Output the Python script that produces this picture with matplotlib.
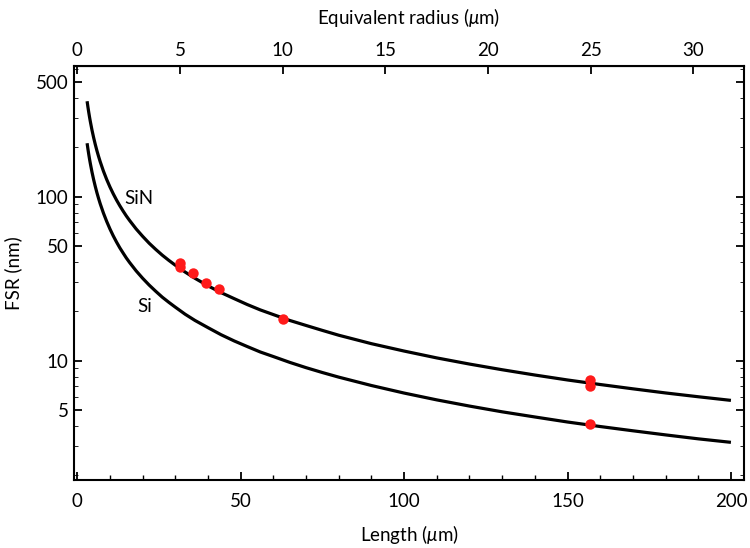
import numpy as np
import matplotlib
matplotlib.use("Agg")
import matplotlib.pyplot as plt
from matplotlib.ticker import FixedLocator, NullFormatter, MultipleLocator

plt.rcParams['font.family'] = ['Lato', 'DejaVu Sans']
plt.rcParams['mathtext.fontset'] = 'custom'
plt.rcParams['mathtext.it'] = 'Lato:italic'

# Curves: Length (um) vs FSR (nm)
length = [3, 3.25, 3.5, 3.75, 4, 4.5, 5, 5.5, 6, 6.5, 7, 8, 9, 10, 11, 12, 13,
          14, 15, 16, 18, 20, 22, 24, 26, 28, 30, 33, 36, 40, 44, 48, 52, 56,
          60, 65, 70, 75, 80, 90, 100, 110, 120, 130, 140, 150, 160, 170, 180,
          190, 200]
fsr_sin = [381.7, 352.3, 327.1, 305.3, 286.3, 254.4, 229, 208.2, 190.8, 176.2,
           163.6, 143.1, 127.2, 114.5, 104.1, 95.4, 88.1, 81.8, 76.3, 71.6,
           63.6, 57.3, 52.0, 47.7, 44.0, 40.9, 38.2, 34.7, 31.8, 28.6, 26.0,
           23.9, 22.0, 20.4, 19.1, 17.6, 16.4, 15.3, 14.3, 12.7, 11.45, 10.4,
           9.54, 8.81, 8.18, 7.63, 7.16, 6.74, 6.36, 6.03, 5.73]
fsr_si = [211.7, 195.4, 181.4, 169.3, 158.8, 141.1, 127, 115.5, 105.8, 97.7,
          90.7, 79.4, 70.6, 63.5, 57.7, 52.9, 48.8, 45.4, 42.3, 39.7, 35.3,
          31.8, 28.9, 26.5, 24.4, 22.7, 21.2, 19.2, 17.6, 15.9, 14.4, 13.2,
          12.2, 11.3, 10.6, 9.77, 9.07, 8.47, 7.94, 7.06, 6.35, 5.77, 5.29,
          4.88, 4.54, 4.23, 3.97, 3.74, 3.53, 3.34, 3.18]

# Measured points (red)
pts_len = [31.4, 31.4, 35.3, 39.4, 43.4, 62.9, 157.0, 157.0, 157.0]
pts_fsr = [39.5, 37.5, 34.1, 29.9, 27.4, 18.0, 7.6, 7.05, 4.09]

yticks_major = [5, 10, 50, 100, 500]
ytick_labels = ['5', '10', '50', '100', '500']
top_ticks = [0, 5, 10, 15, 20, 25, 30]

FS = 13.5

fig = plt.figure(figsize=(7.5, 5.48), dpi=100)
ax = fig.add_axes([0.0987, 0.124, 0.8933, 0.7556])

ax.plot(length, fsr_sin, color='black', lw=2.3, solid_capstyle='butt')
ax.plot(length, fsr_si, color='black', lw=2.3, solid_capstyle='butt')
ax.plot(pts_len, pts_fsr, 'o', color='#ff1a1a', markersize=7.5, markeredgewidth=0)

ax.set_yscale('log')
ax.set_xlim(-1, 204)
ax.set_ylim(1.873, 626)

ax.yaxis.set_major_locator(FixedLocator(yticks_major))
ax.set_yticklabels(ytick_labels)
minor = [m * 10.0 ** e for e in range(0, 3) for m in range(2, 10)
         if m * 10.0 ** e not in yticks_major and m * 10.0 ** e <= 900]
ax.yaxis.set_minor_locator(FixedLocator(minor))
ax.yaxis.set_minor_formatter(NullFormatter())

ax.xaxis.set_major_locator(MultipleLocator(50))
ax.xaxis.set_minor_locator(MultipleLocator(10))

ax.tick_params(axis='both', which='both', direction='in', labelsize=FS, colors='black')
ax.tick_params(axis='y', which='both', left=True, right=True)
ax.tick_params(axis='x', which='both', bottom=True, top=False)
ax.tick_params(which='major', length=6, width=1.3)
ax.tick_params(which='minor', length=3.5, width=1.0)
ax.tick_params(axis='y', which='minor', length=3, width=0.6)
ax.tick_params(axis='x', pad=9)
ax.tick_params(axis='y', pad=4)

for s in ax.spines.values():
    s.set_linewidth(1.5)

sec = ax.secondary_xaxis('top', functions=(lambda L: L / (2 * np.pi), lambda r: r * 2 * np.pi))
sec.set_xticks(top_ticks)
sec.tick_params(direction='in', length=6, width=1.3, labelsize=FS, pad=5)
sec.set_xlabel(r'Equivalent radius ($\mu$m)', fontsize=FS, labelpad=13)

ax.set_xlabel(r'Length ($\mu$m)', fontsize=FS, labelpad=10)
ax.set_ylabel('FSR (nm)', fontsize=FS, labelpad=10)

ax.text(19.0, 97, 'SiN', fontsize=FS, ha='center', va='center')
ax.text(20.5, 21.5, 'Si', fontsize=FS, ha='center', va='center')

fig.savefig('out.png', dpi=100)
